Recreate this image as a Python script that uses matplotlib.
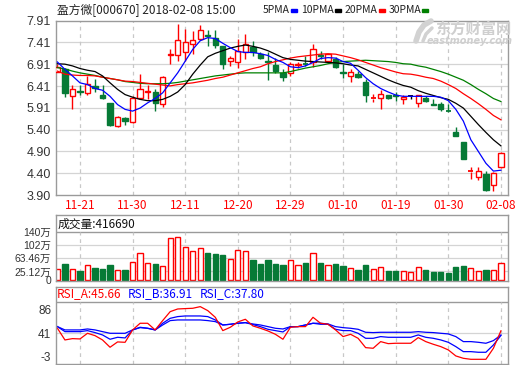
import numpy as np
import pandas as pd
import matplotlib
matplotlib.use("Agg")
import matplotlib.pyplot as plt
from matplotlib.patches import Rectangle
from matplotlib.lines import Line2D

plt.rcParams["font.family"] = ["Noto Sans CJK SC", "DejaVu Sans"]

# === DATA ===
dates = [d.strftime("%m-%d") for d in pd.bdate_range("2017-11-16", "2018-02-08")
         if d != pd.Timestamp("2018-01-01")]

opens = [6.74, 6.81, 6.18, 6.30, 6.24, 6.40, 6.21, 6.01, 5.48, 5.67,
         5.57, 6.14, 6.27, 6.28, 6.00, 7.13, 7.11, 7.20, 7.38, 7.49,
         7.57, 7.51, 7.33, 6.99, 6.96, 7.18, 7.31, 7.15, 6.98, 6.88,
         6.71, 6.71, 6.89, 6.92, 6.95, 7.12, 6.98, 7.04, 6.74, 6.64,
         6.69, 6.51, 6.12, 6.14, 6.20, 6.19, 6.11, 6.17, 6.02, 6.14,
         6.00, 6.00, 5.84, 5.36, 5.12, 4.44, 4.32, 4.38, 4.13, 4.55]
highs = [6.91, 6.83, 6.43, 6.44, 6.64, 6.58, 6.44, 6.02, 5.71, 5.70,
         6.17, 6.68, 6.44, 6.35, 6.64, 7.27, 7.83, 7.72, 7.68, 7.81,
         7.69, 7.69, 7.33, 7.10, 7.49, 7.60, 7.45, 7.20, 7.20, 7.06,
         6.79, 6.95, 6.96, 7.10, 7.37, 7.22, 7.15, 7.08, 6.92, 6.79,
         6.75, 6.56, 6.23, 6.31, 6.21, 6.28, 6.21, 6.21, 6.21, 6.17,
         6.10, 6.04, 6.00, 5.46, 5.12, 4.55, 4.55, 4.45, 4.44, 4.89]
lows = [6.73, 6.15, 5.89, 6.21, 6.20, 6.28, 6.10, 5.49, 5.46, 5.50,
        5.56, 6.10, 6.12, 5.83, 5.92, 6.91, 6.98, 6.98, 7.15, 7.46,
        7.33, 7.29, 6.79, 6.87, 6.82, 7.02, 7.10, 7.02, 6.54, 6.71,
        6.52, 6.64, 6.83, 6.87, 6.85, 7.02, 6.93, 6.83, 6.60, 6.51,
        6.60, 6.04, 6.04, 5.88, 6.10, 6.07, 5.99, 6.12, 5.92, 6.04,
        5.97, 5.83, 5.82, 5.25, 4.72, 4.27, 4.25, 4.00, 4.00, 4.53]
closes = [6.85, 6.24, 6.34, 6.27, 6.46, 6.36, 6.13, 5.50, 5.70, 5.60,
          6.14, 6.34, 6.29, 6.01, 6.61, 7.15, 7.46, 7.43, 7.46, 7.69,
          7.55, 7.35, 6.91, 7.05, 7.22, 7.37, 7.18, 7.05, 6.96, 6.75,
          6.61, 6.91, 6.91, 6.91, 7.25, 7.10, 7.14, 6.85, 6.71, 6.74,
          6.61, 6.20, 6.13, 6.23, 6.14, 6.17, 6.15, 6.17, 6.19, 6.06,
          5.98, 5.89, 5.83, 5.25, 4.72, 4.45, 4.45, 4.01, 4.40, 4.86]

# volume, in 10k shares (万)
volume = [31.4, 47.0, 31.4, 26.5, 43.1, 35.3, 32.3, 44.1, 29.4, 29.4,
          52.9, 78.4, 50.0, 47.0, 40.2, 122.5, 125.4, 96.0, 84.3, 93.1,
          79.4, 76.4, 73.5, 60.8, 87.2, 84.3, 58.8, 47.0, 58.8, 47.0,
          44.1, 57.8, 44.1, 50.0, 79.4, 50.0, 44.1, 47.0, 41.2, 34.3,
          29.4, 44.1, 31.4, 37.2, 26.5, 26.5, 26.5, 23.5, 37.2, 29.4,
          23.5, 23.5, 20.6, 38.2, 41.2, 34.3, 26.5, 29.4, 29.4, 50.0]

ma5 = [6.96, 6.79, 6.64, 6.48, 6.44, 6.35, 6.31, 6.17, 5.98, 5.87,
       5.83, 5.90, 6.02, 6.12, 6.25, 6.48, 6.71, 6.98, 7.25, 7.45,
       7.52, 7.50, 7.39, 7.29, 7.20, 7.18, 7.18, 7.15, 7.11, 7.02,
       6.95, 6.85, 6.83, 6.87, 6.95, 7.04, 7.06, 7.05, 6.97, 6.93,
       6.77, 6.60, 6.46, 6.35, 6.27, 6.20, 6.17, 6.17, 6.17, 6.17,
       6.17, 6.15, 6.07, 5.87, 5.60, 5.17, 4.90, 4.63, 4.45, 4.47]
ma10 = [6.92, 6.91, 6.87, 6.81, 6.77, 6.74, 6.64, 6.48, 6.33, 6.21,
        6.15, 6.10, 6.07, 6.07, 6.10, 6.17, 6.27, 6.44, 6.68, 6.89,
        7.08, 7.16, 7.22, 7.28, 7.32, 7.35, 7.32, 7.28, 7.22, 7.14,
        7.06, 7.02, 7.00, 6.98, 6.97, 6.96, 6.95, 6.94, 6.92, 6.89,
        6.87, 6.79, 6.71, 6.63, 6.55, 6.48, 6.42, 6.38, 6.30, 6.24,
        6.19, 6.14, 6.10, 6.01, 5.90, 5.71, 5.52, 5.34, 5.17, 5.03]
ma20 = [6.75, 6.68, 6.66, 6.65, 6.65, 6.64, 6.61, 6.58, 6.55, 6.52,
        6.51, 6.49, 6.47, 6.45, 6.43, 6.41, 6.44, 6.46, 6.48, 6.51,
        6.54, 6.58, 6.61, 6.66, 6.71, 6.76, 6.81, 6.85, 6.92, 6.97,
        7.01, 7.05, 7.08, 7.10, 7.12, 7.14, 7.15, 7.14, 7.10, 7.06,
        7.01, 6.95, 6.89, 6.83, 6.78, 6.73, 6.69, 6.68, 6.65, 6.61,
        6.58, 6.52, 6.44, 6.35, 6.23, 6.12, 6.00, 5.87, 5.73, 5.63]
ma30 = [6.83, 6.80, 6.75, 6.71, 6.68, 6.65, 6.61, 6.58, 6.55, 6.51,
        6.49, 6.47, 6.46, 6.46, 6.46, 6.47, 6.49, 6.52, 6.55, 6.58,
        6.61, 6.64, 6.66, 6.68, 6.70, 6.71, 6.71, 6.71, 6.71, 6.71,
        6.71, 6.74, 6.78, 6.82, 6.85, 6.88, 6.92, 6.95, 6.97, 6.98,
        6.99, 7.00, 6.99, 6.98, 6.97, 6.95, 6.92, 6.91, 6.87, 6.84,
        6.79, 6.74, 6.68, 6.61, 6.54, 6.44, 6.33, 6.23, 6.12, 6.05]

rsi_a = [50.4, 28.5, 31.0, 30.4, 41.0, 36.6, 28.5, 14.8, 24.8, 24.1,
         47.3, 59.8, 59.8, 47.3, 64.8, 81.6, 86.6, 87.3, 87.9, 91.0,
         83.5, 71.0, 46.0, 52.3, 62.3, 67.3, 54.8, 50.4, 45.4, 39.1,
         29.8, 52.3, 53.5, 53.5, 71.0, 59.8, 57.9, 47.3, 34.8, 39.1,
         31.6, 14.1, 12.9, 25.4, 21.6, 22.3, 22.3, 22.3, 32.9, 25.4,
         20.4, 16.0, 9.8, -1.5, -5.9, -7.8, -7.8, -7.8, 12.9, 45.66]
rsi_b = [53.5, 44.1, 44.1, 44.1, 46.0, 42.3, 37.9, 29.8, 33.5, 32.3,
         47.3, 52.3, 50.4, 47.3, 59.8, 69.1, 72.3, 73.5, 73.5, 73.5,
         72.3, 66.0, 56.6, 57.9, 59.8, 61.0, 57.3, 53.5, 48.5, 46.0,
         43.5, 53.5, 53.5, 56.6, 59.8, 57.9, 57.9, 48.5, 46.0, 46.0,
         41.0, 31.6, 31.6, 34.8, 33.5, 33.5, 33.5, 33.5, 37.9, 33.5,
         31.6, 28.5, 24.1, 16.0, 6.6, 6.6, 5.4, 5.4, 19.1, 36.91]
rsi_c = [53.5, 47.3, 47.3, 47.3, 49.1, 47.3, 44.1, 41.0, 41.0, 41.0,
         47.3, 51.6, 50.4, 47.3, 56.6, 64.8, 66.0, 66.0, 66.0, 66.0,
         64.8, 62.9, 56.6, 57.9, 59.8, 61.0, 58.5, 56.6, 53.5, 50.4,
         49.1, 53.5, 53.5, 56.6, 59.8, 59.8, 58.5, 53.5, 51.6, 50.4,
         48.5, 42.9, 42.3, 42.9, 42.9, 42.9, 42.9, 42.9, 44.1, 42.9,
         42.3, 41.0, 39.8, 34.8, 25.4, 25.4, 24.1, 22.3, 27.3, 37.80]

date_labels = ["11-21", "11-30", "12-11", "12-20", "12-29", "01-10", "01-19", "01-30", "02-08"]
price_labels = ["3.90", "4.40", "4.90", "5.40", "5.91", "6.41", "6.91", "7.41", "7.91"]
vol_ticks = [0, 25.12, 63.46, 101.78, 140.11]
vol_labels = ["0", "25.12万", "63.46万", "102万", "140万"]
rsi_ticks = [-3, 41, 86]
ma_names = ["5PMA", "10PMA", "20PMA", "30PMA"]

# === STYLE ===
RED = "#ff0000"
GREEN = "#067a36"
FRAME = "#9a9a9a"
GRID = "#d4d4d4"
TXT = "#333333"
W, H = 520, 365
ma_colors = ["#0000ff", "black", RED, "#008000"]


def box(left, top, right, bottom):
    return [left / W, 1 - bottom / H, (right - left) / W, (bottom - top) / H]


def ftext(x, y, s, **kw):
    return fig.text(x / W, 1 - y / H, s, va="center", **kw)


def frame(ax):
    for sp in ax.spines.values():
        sp.set_color(FRAME)
        sp.set_linewidth(1.0)
    ax.tick_params(length=0, colors=TXT, labelsize=8.5)


x = np.arange(len(closes))
tick_idx = [dates.index(d) for d in date_labels]
up = [c > o for o, c in zip(opens, closes)]
flat = [c == o for o, c in zip(opens, closes)]
XLIM = (-0.19, 59.94)

fig = plt.figure(figsize=(W / 100, H / 100), dpi=100)
fig.patch.set_facecolor("white")
renderer = fig.canvas.get_renderer()

# === PRICE PANEL ===
ax = fig.add_axes(box(56, 20.7, 508, 195))
frame(ax)
ax.set_xlim(*XLIM)
ax.set_ylim(3.90, 7.91)
yt = np.linspace(3.90, 7.91, 9)
ax.set_yticks(yt)
ax.set_yticklabels(price_labels, family=["Liberation Sans"], fontsize=9)
for v in yt[1:-1]:
    ax.axhline(v, color=GRID, lw=0.9, zorder=0)
ax.vlines(tick_idx, 3.90, 7.91, color="#c8c8c8", lw=0.9, linestyles=(0, (3, 3)), zorder=0)
ax.set_xticks(tick_idx)
ax.set_xticklabels(date_labels, color=RED, fontsize=8.5)
ax.tick_params(axis="x", pad=3)

for i in x:
    o, h, l, c = opens[i], highs[i], lows[i], closes[i]
    col = "black" if flat[i] else (RED if up[i] else GREEN)
    top, bot = max(o, c), min(o, c)
    ax.vlines(i, top, h, color=col, lw=1.0, zorder=2)
    ax.vlines(i, l, bot, color=col, lw=1.0, zorder=2)
    if top - bot < 0.015:
        ax.hlines((o + c) / 2, i - 0.35, i + 0.35, color=col, lw=1.3, zorder=3)
    else:
        fc = "white" if up[i] else GREEN
        ax.add_patch(Rectangle((i - 0.35, bot), 0.7, top - bot, facecolor=fc,
                               edgecolor=col, lw=1.0, zorder=3))

ax.plot(x, ma30, color=ma_colors[3], lw=0.9, zorder=4)
ax.plot(x, ma20, color=ma_colors[2], lw=0.9, zorder=4)
ax.plot(x, ma10, color=ma_colors[1], lw=0.9, zorder=4)
ax.plot(x, ma5, color=ma_colors[0], lw=0.9, zorder=4)

# watermark (eastmoney logo + name)
LOGO = "#d2d2d2"
fig.add_artist(Line2D([416 / W, 419 / W, 424 / W, 431 / W], [1 - 41 / H, 1 - 32 / H, 1 - 25 / H, 1 - 21 / H],
                      color=LOGO, lw=4, solid_capstyle="round"))
fig.add_artist(Line2D([423 / W, 426 / W, 432 / W], [1 - 41 / H, 1 - 34 / H, 1 - 28 / H],
                      color=LOGO, lw=2.5, solid_capstyle="round"))
ftext(473, 29, "东方财富网", fontsize=11, color="#cfcfcf", fontweight="bold", ha="center")
ftext(470, 41, "eastmoney.com", fontsize=7, color="#cfcfcf", fontweight="bold",
      ha="center", family=["DejaVu Sans"], style="italic")

# header
ftext(57, 10, "盈方微[000670] 2018-02-08 15:00", fontsize=8.5, color="#222222")
lx = 263
for name, col in zip(ma_names, ma_colors):
    t = ftext(lx, 10, name, fontsize=7.5, color="#222222")
    bb = t.get_window_extent(renderer)
    dx = bb.x1 + 1
    fig.add_artist(Rectangle((dx / W, 1 - 12 / H), 6 / W, 3 / H, color=col,
                             transform=fig.transFigure))
    lx = dx + 10

# === VOLUME PANEL ===
av = fig.add_axes(box(56, 215, 508, 280.5))
frame(av)
av.set_xlim(*XLIM)
av.set_ylim(-1.47, 190.9)
av.set_xticks([])
av.set_yticks(vol_ticks)
av.set_yticklabels(vol_labels, fontsize=7.5, family=["Liberation Sans", "Noto Sans CJK SC"])
for v in vol_ticks[1:-1]:
    av.axhline(v, color=GRID, lw=0.9, zorder=0)
av.axhline(vol_ticks[-1], color=FRAME, lw=1.0, zorder=0)
av.vlines(tick_idx, 0, vol_ticks[-1], color="#c8c8c8", lw=0.9, linestyles=(0, (3, 3)), zorder=0)
vcol = [RED if (u or f) else GREEN for u, f in zip(up, flat)]
vface = ["white" if (u or f) else GREEN for u, f in zip(up, flat)]
av.bar(x, volume, width=0.7, color=vface, edgecolor=vcol, lw=1.0, zorder=2)
ftext(58, 224, "成交量:416690", fontsize=8.5, color="#111111")

# === RSI PANEL ===
ar = fig.add_axes(box(56, 287.3, 508, 364))
frame(ar)
ar.set_xlim(*XLIM)
ar.set_ylim(-16.6, 127.25)
ar.set_xticks([])
ar.set_yticks(rsi_ticks)
ar.set_yticklabels([str(t) for t in rsi_ticks], fontsize=8.5, family=["Liberation Sans"])
ar.axhline(41, color=GRID, lw=0.9, zorder=0)
ar.axhline(99.7, color=FRAME, lw=1.0, zorder=0)
ar.vlines(tick_idx, -16.6, 99.7, color="#c8c8c8", lw=0.9, linestyles=(0, (3, 3)), zorder=0)
ar.plot(x, rsi_c, color="#0000ff", lw=0.9)
ar.plot(x, rsi_b, color="#0000ff", lw=0.9)
ar.plot(x, rsi_a, color=RED, lw=0.9)
ftext(57, 294, "RSI_A:45.66", fontsize=8.5, color=RED)
ftext(128, 294, "RSI_B:36.91", fontsize=8.5, color="#0000ff")
ftext(200, 294, "RSI_C:37.80", fontsize=8.5, color="#0000ff")

fig.savefig("out.png", dpi=100, facecolor="white")
